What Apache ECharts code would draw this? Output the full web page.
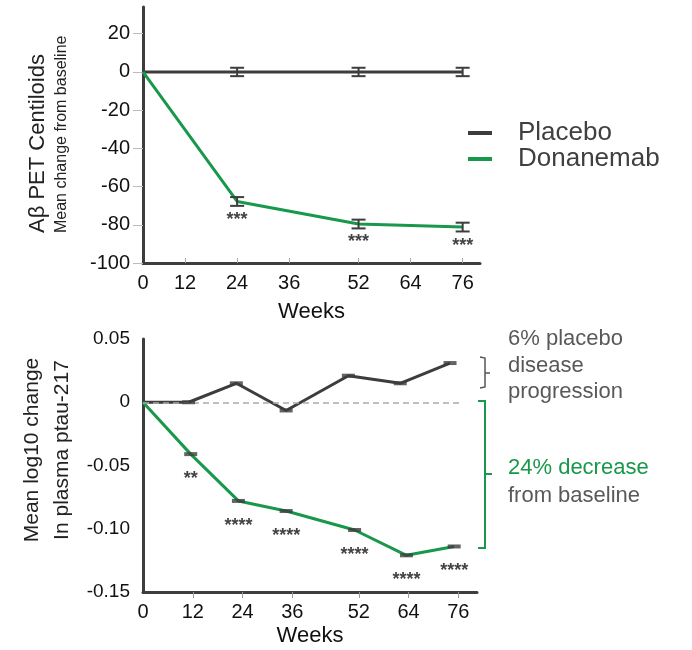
<!DOCTYPE html>
<html>
<head>
<meta charset="utf-8">
<script src="https://cdn.jsdelivr.net/npm/echarts@6/dist/echarts.min.js"></script>
<style>
  html, body { margin: 0; padding: 0; background: #fff; }
  #chart { width: 692px; height: 650px; }
</style>
</head>
<body>
<div id="chart"></div>
<script>
// top panel: amyloid PET (centiloids)
var petWeeks = [2.3, 24, 52, 76]; // line starts at the y axis, drawn a bit right of "0"
var petPlacebo = [0, 0, 0, 0];
var petDonanemab = [0, -67.8, -79.6, -81.2];
var petPlaceboErr = [0, 2.2, 2.2, 2.2];
var petDonanemabErr = [0, 2.3, 2.3, 2.3];
var petSig = ['', '***', '***', '***'];
var petYTicks = [-100, -80, -60, -40, -20, 0, 20];
var petXTicks = [12, 24, 36, 52, 64, 76];
var petXLabels = [2.3, 12, 24, 36, 52, 64, 76];

// bottom panel: plasma ptau-217
var tauWeeksPlacebo = [0, 11, 22.5, 34.5, 49.5, 62, 74];
var tauWeeksDonanemab = [0, 11.5, 23, 34.5, 51, 63.5, 75];
var tauPlacebo = [0, 0, 0.015, -0.0065, 0.021, 0.015, 0.031];
var tauDonanemab = [0, -0.041, -0.078, -0.086, -0.101, -0.121, -0.114];
var tauSig = ['', '**', '****', '****', '****', '****', '****'];
var tauYTicks = [-0.15, -0.1, -0.05, 0, 0.05];
var tauXTicks = [12, 24, 36, 52, 64, 76];
var tauXLabels = [0, 12, 24, 36, 52, 64, 76];

var FONT = 'Liberation Sans, Arial, sans-serif';
var DARK = '#3d3d3d';
var GREEN = '#17984a';
var GREYTXT = '#595959';

function zip(xs, ys) {
  return xs.map(function (x, i) { return [x, ys[i]]; });
}

function withErr(xs, ys, es) {
  var out = [];
  xs.forEach(function (x, i) {
    if (es[i] > 0) out.push([x, ys[i], es[i]]);
  });
  return out;
}

function renderErrorBar(params, api) {
  var x = api.value(0), y = api.value(1), e = api.value(2);
  var hi = api.coord([x, y + e]);
  var lo = api.coord([x, y - e]);
  var w = 7;
  var style = { stroke: DARK, lineWidth: 2 };
  return {
    type: 'group',
    children: [
      { type: 'line', shape: { x1: hi[0], y1: hi[1], x2: lo[0], y2: lo[1] }, style: style },
      { type: 'line', shape: { x1: hi[0] - w, y1: hi[1], x2: hi[0] + w, y2: hi[1] }, style: style },
      { type: 'line', shape: { x1: lo[0] - w, y1: lo[1], x2: lo[0] + w, y2: lo[1] }, style: style }
    ]
  };
}

var chart = echarts.init(document.getElementById('chart'));

chart.setOption({
  backgroundColor: '#fff',
  animation: false,
  textStyle: { fontFamily: FONT },
  grid: [
    { left: 143, top: 7, width: 337, height: 256 },
    { left: 143, top: 339, width: 334, height: 253 }
  ],
  legend: {
    data: ['Placebo', 'Donanemab'],
    orient: 'vertical',
    left: 468,
    top: 120,
    padding: 0,
    itemGap: 0,
    itemWidth: 24,
    itemHeight: 4,
    icon: 'rect',
    selectedMode: false,
    textStyle: { fontSize: 26, lineHeight: 24, color: '#404040', padding: [0, 0, 0, 21], fontFamily: FONT }
  },
  xAxis: [
    {
      gridIndex: 0, type: 'value', min: 2.3, max: 80,
      axisLine: { onZero: false, lineStyle: { color: DARK, width: 3 } },
      axisTick: { inside: true, length: 5, customValues: petXTicks, lineStyle: { color: '#aaa', width: 1 } },
      axisLabel: {
        customValues: petXLabels, fontSize: 20, color: '#111', margin: 10,
        formatter: function (v) { return v < 5 ? '0' : String(v); }
      },
      splitLine: { show: false },
      name: 'Weeks', nameLocation: 'middle', nameGap: 38,
      nameTextStyle: { fontSize: 22, color: '#111' }
    },
    {
      gridIndex: 1, type: 'value', min: 0, max: 80.5,
      axisLine: { onZero: false, lineStyle: { color: DARK, width: 3 } },
      axisTick: { length: 6, customValues: tauXTicks, lineStyle: { color: '#999', width: 1 } },
      axisLabel: { customValues: tauXLabels, fontSize: 20, color: '#111', margin: 10 },
      splitLine: { show: false },
      name: 'Weeks', nameLocation: 'middle', nameGap: 33,
      nameTextStyle: { fontSize: 22, color: '#111' }
    }
  ],
  yAxis: [
    {
      gridIndex: 0, type: 'value', min: -100, max: 34,
      axisLine: { show: true, onZero: false, lineStyle: { color: DARK, width: 3 } },
      axisTick: { show: true, length: 10, customValues: petYTicks, lineStyle: { color: '#bbb', width: 1 } },
      axisLabel: { customValues: petYTicks, fontSize: 20, color: '#111', margin: 13 },
      splitLine: { show: false }
    },
    {
      gridIndex: 1, type: 'value', min: -0.15, max: 0.05,
      axisLine: { show: true, onZero: false, lineStyle: { color: DARK, width: 3 } },
      axisTick: { show: false },
      axisLabel: {
        customValues: tauYTicks, fontSize: 19, color: '#111', margin: 13,
        formatter: function (v) { return v === 0 ? '0' : v.toFixed(2); }
      },
      splitLine: { show: false }
    }
  ],
  series: [
    {
      name: 'Placebo', type: 'line', xAxisIndex: 0, yAxisIndex: 0,
      data: zip(petWeeks, petPlacebo), showSymbol: false,
      itemStyle: { color: DARK }, lineStyle: { color: DARK, width: 3 }
    },
    {
      name: 'Donanemab', type: 'line', xAxisIndex: 0, yAxisIndex: 0,
      data: zip(petWeeks, petDonanemab), showSymbol: false,
      itemStyle: { color: GREEN }, lineStyle: { color: GREEN, width: 3 }
    },
    {
      name: 'Placebo SE', type: 'custom', xAxisIndex: 0, yAxisIndex: 0,
      data: withErr(petWeeks, petPlacebo, petPlaceboErr),
      renderItem: renderErrorBar, encode: { x: 0, y: 1 }, z: 5
    },
    {
      name: 'Donanemab SE', type: 'custom', xAxisIndex: 0, yAxisIndex: 0,
      data: withErr(petWeeks, petDonanemab, petDonanemabErr),
      renderItem: renderErrorBar, encode: { x: 0, y: 1 }, z: 5
    },
    {
      name: 'PET sig', type: 'scatter', xAxisIndex: 0, yAxisIndex: 0,
      data: zip(petWeeks, petDonanemab), symbolSize: 1,
      itemStyle: { color: 'transparent' },
      label: {
        show: true, position: 'bottom', distance: 9, fontSize: 18, fontWeight: 'bold', color: '#111',
        formatter: function (p) { return petSig[p.dataIndex]; }
      }
    },
    {
      name: 'Placebo', type: 'line', xAxisIndex: 1, yAxisIndex: 1,
      data: zip(tauWeeksPlacebo, tauPlacebo), showSymbol: false,
      itemStyle: { color: DARK }, lineStyle: { color: DARK, width: 3 },
      markLine: {
        silent: true, symbol: 'none', label: { show: false },
        lineStyle: { type: [6, 4], color: '#aaa', width: 1.5 },
        data: [[{ coord: [0, 0] }, { coord: [77, 0] }]]
      }
    },
    {
      name: 'Donanemab', type: 'line', xAxisIndex: 1, yAxisIndex: 1,
      data: zip(tauWeeksDonanemab, tauDonanemab), showSymbol: false,
      itemStyle: { color: GREEN }, lineStyle: { color: GREEN, width: 3 }
    },
    {
      name: 'Placebo mark', type: 'scatter', xAxisIndex: 1, yAxisIndex: 1,
      data: zip(tauWeeksPlacebo, tauPlacebo).slice(1),
      symbol: 'rect', symbolSize: [13, 4], itemStyle: { color: DARK }, z: 5
    },
    {
      name: 'Donanemab mark', type: 'scatter', xAxisIndex: 1, yAxisIndex: 1,
      data: zip(tauWeeksDonanemab, tauDonanemab).slice(1),
      symbol: 'rect', symbolSize: [13, 4], itemStyle: { color: DARK }, z: 5,
      label: {
        show: true, position: 'bottom', distance: 14, fontSize: 18, fontWeight: 'bold', color: '#111',
        formatter: function (p) { return tauSig[p.dataIndex + 1]; }
      }
    }
  ],
  graphic: [
    { type: 'text', x: 38, y: 233, rotation: Math.PI / 2,
      style: { text: 'Aβ PET Centiloids', fontSize: 22, fontFamily: FONT, fill: '#222', align: 'left', verticalAlign: 'middle' } },
    { type: 'text', x: 62, y: 233, rotation: Math.PI / 2,
      style: { text: 'Mean change from baseline', fontSize: 16, fontFamily: FONT, fill: '#222', align: 'left', verticalAlign: 'middle' } },
    { type: 'text', x: 32, y: 450, rotation: Math.PI / 2,
      style: { text: 'Mean log10 change', fontSize: 21, fontFamily: FONT, fill: '#222', align: 'center', verticalAlign: 'middle' } },
    { type: 'text', x: 62, y: 450, rotation: Math.PI / 2,
      style: { text: 'In plasma ptau-217', fontSize: 21, fontFamily: FONT, fill: '#222', align: 'center', verticalAlign: 'middle' } },
    // grey brace for placebo
    { type: 'polyline', shape: { points: [[480, 357], [485, 358], [485, 387], [480, 388]] },
      style: { stroke: '#555', lineWidth: 1.5, fill: null } },
    { type: 'line', shape: { x1: 485, y1: 373, x2: 490, y2: 373 }, style: { stroke: '#555', lineWidth: 1.5 } },
    // green brace for donanemab
    { type: 'polyline', shape: { points: [[478, 401], [485, 401], [485, 548], [478, 548]] },
      style: { stroke: GREEN, lineWidth: 2, fill: null } },
    { type: 'line', shape: { x1: 485, y1: 474, x2: 492, y2: 474 }, style: { stroke: GREEN, lineWidth: 2 } },
    { type: 'text', x: 508, y: 339,
      style: { text: '6% placebo', fontSize: 22, fontFamily: FONT, fill: GREYTXT, align: 'left', verticalAlign: 'middle' } },
    { type: 'text', x: 508, y: 366,
      style: { text: 'disease', fontSize: 22, fontFamily: FONT, fill: GREYTXT, align: 'left', verticalAlign: 'middle' } },
    { type: 'text', x: 508, y: 392,
      style: { text: 'progression', fontSize: 22, fontFamily: FONT, fill: GREYTXT, align: 'left', verticalAlign: 'middle' } },
    { type: 'text', x: 508, y: 468,
      style: { text: '24% decrease', fontSize: 22, fontFamily: FONT, fill: GREEN, align: 'left', verticalAlign: 'middle' } },
    { type: 'text', x: 508, y: 496,
      style: { text: 'from baseline', fontSize: 22, fontFamily: FONT, fill: GREYTXT, align: 'left', verticalAlign: 'middle' } }
  ]
});
</script>
</body>
</html>
